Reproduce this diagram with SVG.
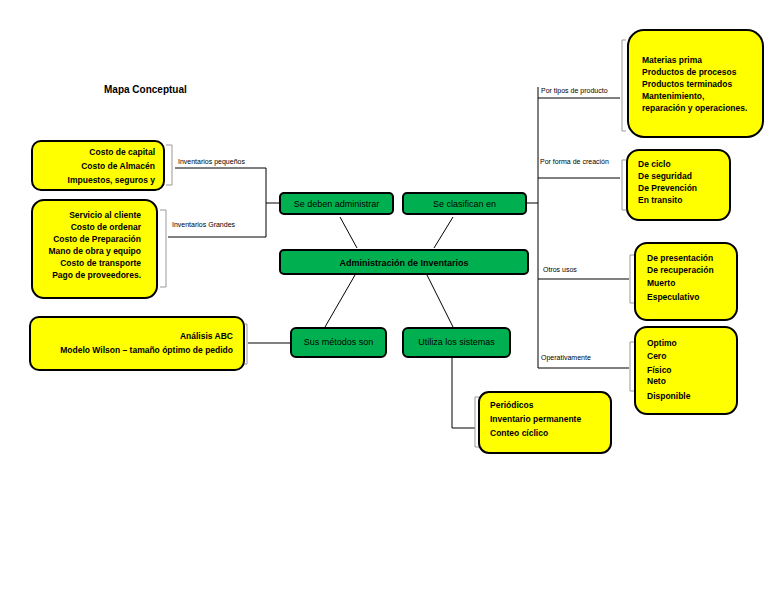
<svg xmlns="http://www.w3.org/2000/svg" width="768" height="594" viewBox="0 0 768 594">
<defs>
<style>
text{font-family:"Liberation Sans",Arial,sans-serif;fill:#000;}
.t{font-size:10px;font-weight:bold;}
.y{fill:#ffff00;stroke:#000;stroke-width:2;}
.g{fill:#00b050;stroke:#000;stroke-width:2;}
.s{fill:#444;}
.bt{font-size:8.5px;font-weight:bold;}
.gt{font-size:9px;}
.lb{font-size:7px;}
.ln{fill:none;stroke:#000;stroke-width:1;}
.br{fill:none;stroke:#999;stroke-width:1;}
.r{text-anchor:end;}
.m{text-anchor:middle;}
</style>
</defs>
<rect width="768" height="594" fill="#fff"/>
<text class="t" x="104" y="93">Mapa Conceptual</text>

<g id="connectors">
<polyline class="ln" points="175,168 266,168 266,237 168,237"/>
<line class="ln" x1="266" y1="203" x2="280" y2="203"/>
<line class="ln" x1="340" y1="217" x2="357" y2="248"/>
<line class="ln" x1="453" y1="217" x2="434" y2="248"/>
<line class="ln" x1="355" y1="275" x2="325" y2="327"/>
<line class="ln" x1="427" y1="275" x2="453" y2="327"/>
<line class="ln" x1="526" y1="203" x2="538" y2="203"/>
<line class="ln" x1="538" y1="87" x2="538" y2="368"/>
<line class="ln" x1="538" y1="98" x2="620" y2="98"/>
<line class="ln" x1="538" y1="178" x2="620" y2="178"/>
<line class="ln" x1="538" y1="279" x2="629" y2="279"/>
<line class="ln" x1="538" y1="368" x2="629" y2="368"/>
<line class="ln" x1="248" y1="343" x2="291" y2="343"/>
<polyline class="ln" points="452,357 452,428 475,428"/>
<path class="br" d="M166,145 H172 V185 H166"/>
<path class="br" d="M160,210 H166 V287 H160"/>
<path class="br" d="M626,40 H622 V131 H626"/>
<path class="br" d="M626,160 H622 V210 H626"/>
<path class="br" d="M634,255 H630 V303 H634"/>
<path class="br" d="M634,342 H630 V391 H634"/>
<path class="br" d="M243,324 H247 V364 H243"/>
<path class="br" d="M479,397 H475 V447 H479"/>
<text class="lb" x="178" y="164">Inventarios pequeños</text>
<text class="lb" x="172" y="227">Inventarios Grandes</text>
<text class="lb" x="541" y="93">Por tipos de producto</text>
<text class="lb" x="540" y="164">Por forma de creación</text>
<text class="lb" x="543" y="272">Otros usos</text>
<text class="lb" x="541" y="360">Operativamente</text>
</g>

<g id="costos-pequenos">
<rect class="y" x="32" y="141" width="132" height="49" rx="9"/>
<text class="bt r" x="155" y="155">Costo de capital</text>
<text class="bt r" x="155" y="169">Costo de Almacén</text>
<text class="bt r" x="155" y="183">Impuestos, seguros y</text>
</g>

<g id="costos-grandes">
<rect class="y" x="32" y="200" width="125" height="98" rx="12"/>
<text class="bt r" x="141" y="218">Servicio al cliente</text>
<text class="bt r" x="141" y="230">Costo de ordenar</text>
<text class="bt r" x="141" y="242">Costo de Preparación</text>
<text class="bt r" x="141" y="254">Mano de obra y equipo</text>
<text class="bt r" x="141" y="266">Costo de transporte</text>
<text class="bt r" x="141" y="278">Pago de proveedores.</text>
</g>

<g id="se-deben-administrar">
<rect class="g" x="280" y="193" width="113" height="21" rx="4"/>
<text class="gt m" x="336.5" y="207">Se deben administrar</text>
</g>

<g id="se-clasifican-en">
<rect class="g" x="403" y="193" width="123" height="21" rx="4"/>
<text class="gt m" x="464.5" y="207">Se clasifican en</text>
</g>

<g id="administracion">
<rect class="g" x="280" y="250" width="248" height="24" rx="4"/>
<text class="gt m" x="404" y="266" font-weight="bold" font-size="10">Administración de Inventarios</text>
</g>

<g id="sus-metodos">
<rect class="g" x="291" y="328" width="95" height="29" rx="5"/>
<text class="gt m" x="338.5" y="345">Sus métodos son</text>
</g>

<g id="utiliza-sistemas">
<rect class="g" x="403" y="328" width="107" height="29" rx="5"/>
<text class="gt m" x="456.5" y="345">Utiliza los sistemas</text>
</g>

<g id="tipos-producto">
<rect class="y" x="628" y="30" width="135" height="107" rx="16"/>
<text class="bt" x="642" y="63">Materias prima</text>
<text class="bt" x="642" y="75">Productos de procesos</text>
<text class="bt" x="642" y="87">Productos  terminados</text>
<text class="bt" x="642" y="99">Mantenimiento,</text>
<text class="bt" x="642" y="111">reparación y operaciones.</text>
</g>

<g id="forma-creacion">
<rect class="y" x="627" y="150" width="103" height="70" rx="12"/>
<text class="bt" x="638" y="167">De ciclo</text>
<text class="bt" x="638" y="179">De seguridad</text>
<text class="bt" x="638" y="191">De Prevención</text>
<text class="bt" x="638" y="203">En transito</text>
</g>

<g id="otros-usos">
<rect class="y" x="635" y="243" width="102" height="77" rx="12"/>
<text class="bt" x="647" y="261">De presentación</text>
<text class="bt" x="647" y="273">De recuperación</text>
<text class="bt" x="647" y="286">Muerto</text>
<text class="bt" x="647" y="300">Especulativo</text>
</g>

<g id="operativamente">
<rect class="y" x="635" y="327" width="102" height="87" rx="12"/>
<text class="bt" x="647" y="346">Optimo</text>
<text class="bt" x="647" y="359">Cero</text>
<text class="bt" x="647" y="373">Físico</text>
<text class="bt" x="647" y="384">Neto</text>
<text class="bt" x="647" y="399">Disponible</text>
</g>

<g id="metodos">
<rect class="y" x="30" y="317" width="214" height="53" rx="9"/>
<text class="bt r" x="233" y="339">Análisis ABC</text>
<text class="bt r" x="233" y="353">Modelo Wilson – tamaño óptimo de pedido</text>
</g>

<g id="sistemas">
<rect class="y" x="479" y="392" width="132" height="61" rx="10"/>
<text class="bt" x="490" y="408">Periódicos</text>
<text class="bt" x="490" y="422">Inventario permanente</text>
<text class="bt" x="490" y="436">Conteo cíclico</text>
</g>
</svg>
